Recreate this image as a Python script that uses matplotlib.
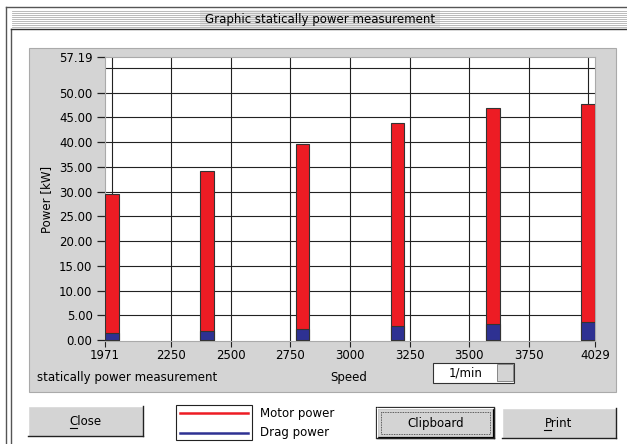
import matplotlib
matplotlib.use("Agg")
import matplotlib.pyplot as plt
from matplotlib.patches import Rectangle
from matplotlib.ticker import FixedLocator

plt.rcParams['font.family'] = ['DejaVu Sans']

# data
speed = [2000, 2400, 2800, 3200, 3600, 4000]
motor_power = [29.5, 34.1, 39.7, 43.9, 46.8, 47.6]
drag_power = [1.5, 1.8, 2.2, 2.8, 3.2, 3.6]
x_ticks = [1971, 2250, 2500, 2750, 3000, 3250, 3500, 3750, 4029]
x_grid = [2000, 2250, 2500, 2750, 3000, 3250, 3500, 3750, 4000]
y_ticks = [0, 5, 10, 15, 20, 25, 30, 35, 40, 45, 50, 57.19]
y_grid = [5, 10, 15, 20, 25, 30, 35, 40, 45, 50, 55]

W, H = 627, 444
fig = plt.figure(figsize=(W / 100, H / 100), dpi=100)
fig.patch.set_facecolor('white')

# pixel overlay for the dialog chrome
ui = fig.add_axes([0, 0, 1, 1], zorder=0)
ui.set_xlim(0, W)
ui.set_ylim(H, 0)
ui.axis('off')

GRAY = '#d4d4d4'
fs = 8.5

# window frame
ui.plot([6, 6], [7, H], color='#555555', lw=1)
ui.plot([11, 11], [29, H], color='#555555', lw=1)
ui.plot([6, W], [7, 7], color='#555555', lw=1)
ui.plot([11, W], [29, 29], color='#333333', lw=1)
for yy in range(11, 28, 2):
    ui.plot([12, W], [yy, yy], color='#b0b0b0', lw=0.6)
ui.add_patch(Rectangle((200, 10), 240, 18, facecolor='#e8e8e8', edgecolor='none'))
ui.text(320, 19.5, 'Graphic statically power measurement', ha='center', va='center', fontsize=fs)

# gray chart panel
ui.add_patch(Rectangle((29, 48), 587, 344, facecolor=GRAY, edgecolor='#aaaaaa', lw=0.8))
ui.text(37, 377, 'statically power measurement', ha='left', va='center', fontsize=fs)
ui.text(349, 377, 'Speed', ha='center', va='center', fontsize=fs)

# unit box
ui.add_patch(Rectangle((433, 363), 81, 20, facecolor='white', edgecolor='#333333', lw=0.8))
ui.add_patch(Rectangle((497, 364), 16, 17, facecolor=GRAY, edgecolor='#777777', lw=0.6))
ui.text(466, 373, '1/min', ha='center', va='center', fontsize=fs)


def button(x, y, w, h, label, ul=None, focus=False):
    ui.add_patch(Rectangle((x, y), w, h, facecolor=GRAY, edgecolor='none'))
    ui.plot([x, x + w], [y, y], color='white', lw=1)
    ui.plot([x, x], [y, y + h], color='white', lw=1)
    ui.plot([x, x + w], [y + h, y + h], color='#222222', lw=1)
    ui.plot([x + w, x + w], [y, y + h], color='#222222', lw=1)
    if focus:
        ui.add_patch(Rectangle((x, y), w, h, facecolor='none', edgecolor='black', lw=1.6))
        ui.add_patch(Rectangle((x + 4, y + 4), w - 8, h - 8, facecolor='none',
                               edgecolor='#333333', lw=0.6, ls=(0, (1, 1))))
    ui.text(x + w / 2, y + h / 2, label, ha='center', va='center', fontsize=fs)
    if ul is not None:
        ui.plot(ul, [y + h / 2 + 7, y + h / 2 + 7], color='black', lw=0.8)


button(28, 406, 115, 30, 'Close', ul=(70, 77))
button(377, 408, 117, 30, 'Clipboard', focus=True)
button(502, 408, 114, 30, 'Print', ul=(544, 551))

# legend box
ui.add_patch(Rectangle((176, 405), 76, 35, facecolor='white', edgecolor='#222222', lw=0.8))
ui.plot([180, 248], [413, 413], color='#ed1c24', lw=1.8)
ui.plot([180, 248], [433, 433], color='#2e3192', lw=1.8)
ui.text(260, 413, 'Motor power', ha='left', va='center', fontsize=fs)
ui.text(260, 432, 'Drag power', ha='left', va='center', fontsize=fs)

# plot area
l, r, t, b = 105, 595, 57, 341
ax = fig.add_axes([l / W, (H - b) / H, (r - l) / W, (b - t) / H], zorder=1)
ax.set_facecolor('white')
ax.set_xlim(1971, 4029)
ax.set_ylim(-0.2, 57.19)

ax.bar(speed, motor_power, width=56, color='#ed1c24', edgecolor='#333333', lw=0.8, zorder=3)
ax.bar(speed, drag_power, width=56, color='#2e3192', edgecolor='#333333', lw=0.8, zorder=4)

ax.xaxis.set_major_locator(FixedLocator(x_ticks))
ax.xaxis.set_minor_locator(FixedLocator(x_grid))
ax.yaxis.set_major_locator(FixedLocator(y_ticks))
ax.yaxis.set_minor_locator(FixedLocator(y_grid))
ax.xaxis.remove_overlapping_locs = False
ax.yaxis.remove_overlapping_locs = False
ax.set_xticklabels([str(v) for v in x_ticks])
ax.set_yticklabels(['%.2f' % v for v in y_ticks])
ax.grid(True, which='minor', color='#222222', lw=0.8, zorder=1)
ax.grid(False, which='major')
ax.tick_params(which='minor', length=0)
ax.tick_params(axis='y', which='major', direction='out', length=6, width=0.9,
               color='#222222', labelsize=fs, pad=3)
ax.tick_params(axis='x', which='major', direction='out', length=4, width=0.8,
               color='#222222', labelsize=fs, pad=2)
for s in ax.spines.values():
    s.set_color('#aaaaaa')
    s.set_linewidth(0.8)
ax.set_ylabel('Power [kW]', fontsize=fs, labelpad=4)

fig.savefig('out.png', dpi=100)
